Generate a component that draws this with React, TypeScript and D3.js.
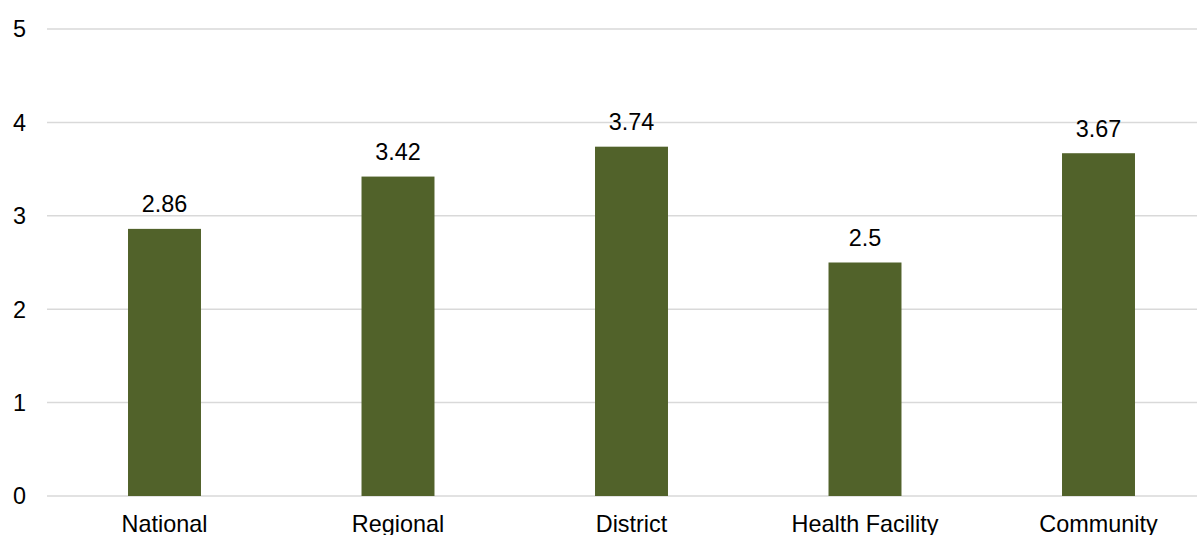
import React from "react";
import * as d3 from "d3";

const categories = ["National", "Regional", "District", "Health Facility", "Community"];
const values = [2.86, 3.42, 3.74, 2.5, 3.67];
const yTicks = [0, 1, 2, 3, 4, 5];

const W = 1197;
const H = 535;
const FONT = "'Liberation Sans', Arial, sans-serif";
const FS = 23.4;

export default function App() {
  const x = d3.scaleBand<string>().domain(categories).range([47.75, 1215.25]).paddingInner(0.6875).paddingOuter(0.34375);
  const y = d3.scaleLinear().domain([0, 5]).range([496, 29]);

  return (
    <svg width={W} height={H} style={{ position: "absolute", left: 0, top: 0, background: "#fff" }}>
      {yTicks.map((t) => (
        <g key={t}>
          <line x1={47} x2={W} y1={y(t)} y2={y(t)} stroke="#d9d9d9" strokeWidth={1.5} />
          <text x={26} y={y(t)} dy="0.36em" textAnchor="end" fontFamily={FONT} fontSize={FS} fill="#000">
            {t}
          </text>
        </g>
      ))}
      {categories.map((c, i) => (
        <g key={c}>
          <rect x={x(c)} y={y(values[i])} width={x.bandwidth()} height={y(0) - y(values[i])} fill="#51622a" />
          <text x={(x(c) as number) + x.bandwidth() / 2} y={y(values[i]) - 16.5} textAnchor="middle" fontFamily={FONT} fontSize={FS} fill="#000">
            {values[i]}
          </text>
          <text x={(x(c) as number) + x.bandwidth() / 2} y={532} textAnchor="middle" fontFamily={FONT} fontSize={FS} fill="#000">
            {c}
          </text>
        </g>
      ))}
    </svg>
  );
}
